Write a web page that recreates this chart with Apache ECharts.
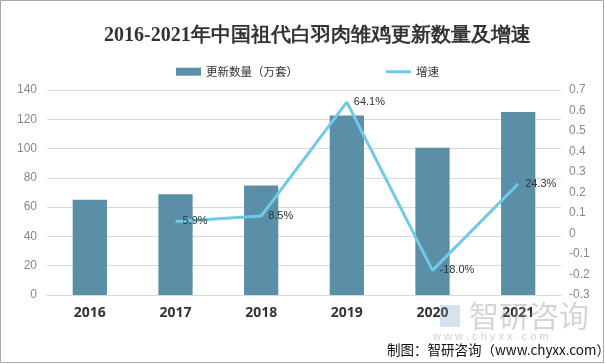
<!DOCTYPE html>
<html><head><meta charset="utf-8">
<script src="https://cdn.jsdelivr.net/npm/echarts@6/dist/echarts.min.js"></script>
<style>html,body{margin:0;padding:0;background:#fff}#c{width:605px;height:364px}</style>
</head><body><div id="c"></div>
<script>
const years = ['2016','2017','2018','2019','2020','2021'];
const renewQty = [65, 68.8, 74.7, 122.6, 100.5, 124.9];
const growth = [null, 0.059, 0.085, 0.641, -0.180, 0.243];
const growthLabels = ['', '5.9%', '8.5%', '64.1%', '-18.0%', '24.3%'];
const leftTicks = {min: 0, max: 140, interval: 20};
const rightTicks = {min: -0.3, max: 0.7, interval: 0.1};

const chart = echarts.init(document.getElementById('c'), null, {renderer: 'canvas'});
chart.setOption({
  backgroundColor: '#fff',
  animation: false,
  title: {
    text: '2016-2021年中国祖代白羽肉雏鸡更新数量及增速',
    left: 99, top: 21,
    textStyle: {fontFamily: 'serif', fontSize: 20, fontWeight: 'bold', color: '#333'}
  },
  legend: {
    top: 61, left: 171, itemGap: 88, itemWidth: 25, itemHeight: 8,
    textStyle: {fontSize: 11.5, color: '#333', fontFamily: 'Noto Sans CJK SC'},
    data: [{name: '更新数量（万套）', icon: 'rect'}, {name: '增速', icon: 'path://M0,0H25V3H0Z'}]
  },
  grid: {left: 47, right: 44, top: 90, bottom: 69, containLabel: false},
  xAxis: {
    type: 'category', data: years,
    axisLine: {show: true, lineStyle: {color: '#d9d9d9'}},
    axisTick: {show: false},
    axisLabel: {fontSize: 14, fontWeight: 'bold', color: '#333', margin: 11, fontFamily: 'Noto Sans'}
  },
  yAxis: [
    {type: 'value', min: leftTicks.min, max: leftTicks.max, interval: leftTicks.interval,
     axisLine: {show: false}, axisTick: {show: false},
     splitLine: {lineStyle: {color: '#d9d9d9'}},
     axisLabel: {color: '#888', fontSize: 12, margin: 10}},
    {type: 'value', min: rightTicks.min, max: rightTicks.max, interval: rightTicks.interval,
     axisLine: {show: false}, axisTick: {show: false}, splitLine: {show: false},
     axisLabel: {color: '#888', fontSize: 12, margin: 8, align: 'left',
       formatter: v => String(Math.round(v * 10) / 10)}}
  ],
  series: [
    {name: '更新数量（万套）', type: 'bar', data: renewQty, barWidth: '40%',
     itemStyle: {color: '#5b8fa8'}},
    {name: '增速', type: 'line', yAxisIndex: 1, data: growth,
     symbol: 'circle', symbolSize: 0, showSymbol: true,
     lineStyle: {color: '#6fcaea', width: 3}, itemStyle: {color: '#6fcaea'},
     label: {show: true, position: 'right', distance: 7, fontSize: 11, color: '#333',
       formatter: p => growthLabels[p.dataIndex]}}
  ],
  graphic: [
    {type: 'rect', shape: {x: 0.5, y: 0.5, width: 603, height: 362}, style: {fill: 'none', stroke: '#aaa', lineWidth: 1}, z: 100},
    {type: 'text', left: 469, top: 301, style: {text: '智研咨询', fontSize: 30, fill: 'rgba(150,150,150,0.4)', fontFamily: 'Noto Sans CJK SC'}, z: 1},
    {type: 'rect', shape: {x: 440, y: 305, width: 20, height: 22}, style: {fill: 'rgba(120,160,200,0.3)'}, z: 1},
    {type: 'text', left: 433, top: 331, style: {text: 'w w w . c h y x x . c o m', fontSize: 11, fill: 'rgba(170,170,170,0.55)'}, z: 1},
    {type: 'text', left: 387, top: 343, style: {text: '制图：智研咨询（www.chyxx.com）', fontSize: 13.5, fill: '#111', fontFamily: 'Noto Sans CJK SC'}, z: 10}
  ]
});
</script></body></html>
